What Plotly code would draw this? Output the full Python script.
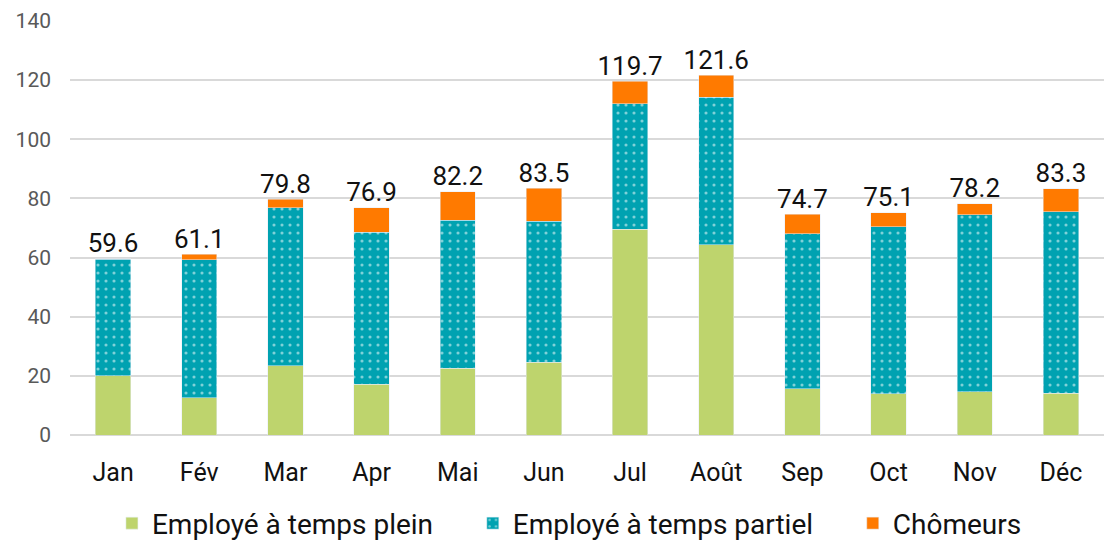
import plotly.graph_objects as go

months = ["Jan", "Fév", "Mar", "Apr", "Mai", "Jun", "Jul", "Août", "Sep", "Oct", "Nov", "Déc"]
plein = [20.0, 12.6, 23.4, 17.1, 22.5, 24.6, 69.6, 64.3, 15.7, 14.0, 14.7, 14.1]
partiel = [39.5, 46.7, 53.5, 51.4, 50.2, 47.7, 42.5, 49.9, 52.3, 56.5, 59.7, 61.4]
chomeurs = [0.1, 1.8, 2.9, 8.4, 9.5, 11.2, 7.6, 7.4, 6.7, 4.6, 3.8, 7.8]
totals = [59.6, 61.1, 79.8, 76.9, 82.2, 83.5, 119.7, 121.6, 74.7, 75.1, 78.2, 83.3]

GREEN = "#BED46D"
TEAL = "#00A2B1"
ORANGE = "#FF7A00"
FONT = "Roboto"
PAD = "\u00a0" * 5  # widen legend spacing a bit

fig = go.Figure()
fig.add_trace(go.Bar(x=months, y=plein, name="Employé à temps plein" + PAD, marker_color=GREEN))
fig.add_trace(go.Bar(
    x=months, y=partiel, name="Employé à temps partiel" + PAD,
    marker=dict(color=TEAL, pattern=dict(shape=".", fgcolor="white", bgcolor=TEAL, size=8, solidity=0.12)),
))
fig.add_trace(go.Bar(x=months, y=chomeurs, name="Chômeurs", marker_color=ORANGE))
# total labels above each stack
fig.add_trace(go.Scatter(
    x=months, y=totals, mode="text", text=[f"{t:.1f}" for t in totals],
    textposition="top center", textfont=dict(size=26, color="#111111", family=FONT),
    showlegend=False, cliponaxis=False, hoverinfo="skip",
))

fig.update_layout(
    barmode="stack",
    bargap=0.59,
    width=1104, height=543,
    margin=dict(l=70, r=0, t=21, b=108, autoexpand=False),
    plot_bgcolor="white", paper_bgcolor="white",
    font=dict(family=FONT),
    legend=dict(
        orientation="h", x=0.483, xanchor="center", y=-0.274, yanchor="bottom",
        font=dict(size=28, color="#111111"), traceorder="normal",
    ),
)
fig.update_yaxes(
    range=[0, 140], dtick=20, showgrid=True, gridcolor="#D9D9D9", gridwidth=1.5,
    zeroline=True, zerolinecolor="#D9D9D9", zerolinewidth=1.5,
    tickfont=dict(size=21, color="#595959"), ticklabelstandoff=18,
)
fig.update_xaxes(range=[-0.5, 11.5], tickfont=dict(size=25, color="#111111"), ticklabelstandoff=20)

fig.write_html("out.html", config={"displayModeBar": False},
               post_script="document.body.style.margin='0';")
